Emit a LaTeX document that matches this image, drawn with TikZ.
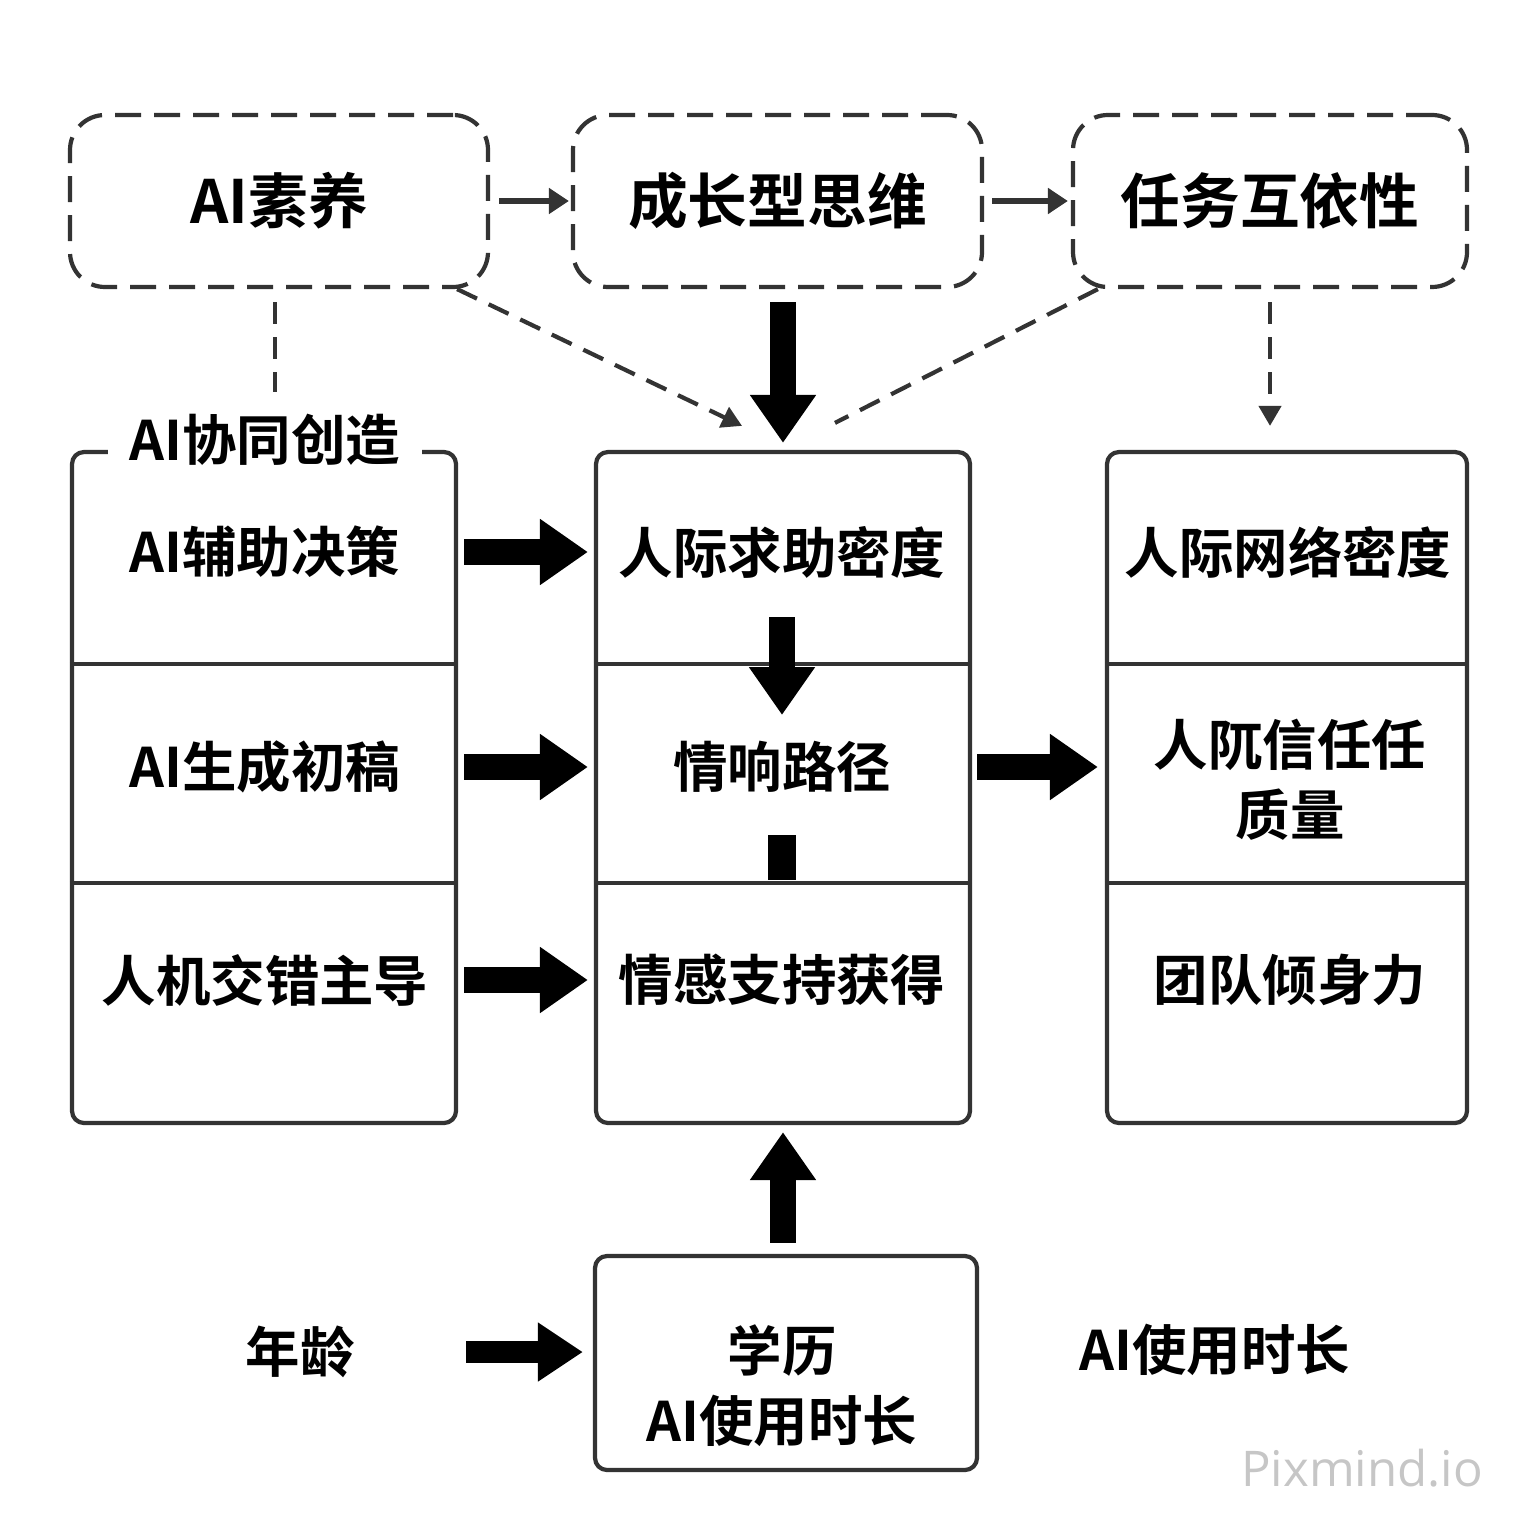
\documentclass[tikz,border=0pt]{standalone}
\usepackage{fontspec}
\setmainfont{Noto Sans CJK SC}[BoldFont={Noto Sans CJK SC Bold}]
\newfontfamily\markfont{Open Sans}
\usetikzlibrary{arrows.meta}
\definecolor{edge}{HTML}{333333}

\begin{document}
\begin{tikzpicture}[line join=round,
		dashbox/.style={draw=edge, line width=1.2pt, dash pattern=on 0.26cm off 0.13cm, rounded corners=0.35cm, minimum height=1.72cm, inner sep=0pt, font=\bfseries\fontsize{17}{20}\selectfont},
		frame/.style={draw=edge, line width=1.2pt, rounded corners=0.12cm, inner sep=0pt},
		cell/.style={align=center, inner sep=2pt, font=\bfseries\fontsize{15.5}{19.9}\selectfont},
		fat/.style={line width=0.26cm, -{Triangle[length=0.48cm, width=0.63cm]}},
		slim/.style={draw=edge, line width=1.5pt, -{Triangle[length=0.2cm, width=0.25cm]}},
		dashline/.style={draw=edge, line width=1.2pt, dash pattern=on 0.22cm off 0.13cm}]
	% Fix page size
	\useasboundingbox (0,0) rectangle (15.36,-15.36);
	
	% Top row: moderators
	\node[dashbox, minimum width=4.18cm] (lit) at (2.79,-2.01) {AI素养};
	\node[dashbox, minimum width=4.09cm] (gm) at (7.775,-2.01) {成长型思维};
	\node[dashbox, minimum width=3.94cm] (tid) at (12.70,-2.01) {任务互依性};
	\draw[slim, shorten <=0.09cm, shorten >=0.02cm] (lit.east) -- (gm.west);
	\draw[slim, shorten <=0.08cm, shorten >=0.03cm] (gm.east) -- (tid.west);
	
	% Three column frames
	\node[frame, minimum width=3.84cm, minimum height=6.71cm] (lframe) at (2.64,-7.875) {};
	\node[frame, minimum width=3.74cm, minimum height=6.71cm] (cframe) at (7.83,-7.875) {};
	\node[frame, minimum width=3.60cm, minimum height=6.71cm] (rframe) at (12.87,-7.875) {};
	\foreach \f in {lframe,cframe,rframe}
	\foreach \y in {-6.64,-8.83}
	\draw[edge, line width=1.2pt] (\f.west |- 0,\y) -- (\f.east |- 0,\y);
	
	% Group title on left frame
	\node[cell, fill=white, inner xsep=0.22cm] (colab) at (2.65,-4.40) {AI协同创造};
	
	% Row labels
	\node[cell] (ad) at (2.65,-5.52) {AI辅助决策};
	\node[cell] (ag) at (2.65,-7.67) {AI生成初稿};
	\node[cell] (hm) at (2.65,-9.80) {人机交错主导};
	\node[cell] (hd) at (7.82,-5.52) {人际求助密度};
	\node[cell] (rp) at (7.82,-7.67) {情响路径};
	\node[cell] (es) at (7.82,-9.80) {情感支持获得};
	\node[cell] (nd) at (12.88,-5.52) {人际网络密度};
	\node[cell] (tq) at (12.90,-7.80) {人阢信任任\\质量};
	\node[cell] (tc) at (12.90,-9.80) {团队倾身力};
	
	% Dashed links from moderators
	\draw[dashline] ([xshift=-0.04cm, yshift=-0.13cm]lit.south) -- ++(0,-0.90);
	\draw[dashline, -{Triangle[length=0.2cm, width=0.22cm]}] ([xshift=-0.33cm]lit.south east) -- ([xshift=-0.41cm, yshift=0.24cm]cframe.north);
	\draw[dashline] ([xshift=0.27cm]tid.south west) -- ([xshift=0.52cm, yshift=0.27cm]cframe.north);
	\draw[dashline, -{Triangle[length=0.2cm, width=0.22cm]}] ([yshift=-0.13cm]tid.south) -- ([yshift=0.24cm]tid.south |- rframe.north);
	\draw[fat, shorten <=0.13cm, shorten >=0.07cm] (cframe.north |- gm.south) -- (cframe.north);
	
	% Block arrows between columns
	\draw[fat, shorten <=0.06cm, shorten >=0.06cm] (ad -| lframe.east) -- (ad -| cframe.west);
	\draw[fat, shorten <=0.06cm, shorten >=0.06cm] (ag -| lframe.east) -- (ag -| cframe.west);
	\draw[fat, shorten <=0.06cm, shorten >=0.06cm] (hm -| lframe.east) -- (hm -| cframe.west);
	\draw[fat, shorten <=0.05cm, shorten >=0.07cm] (rp -| cframe.east) -- (rp -| rframe.west);
	\draw[fat] ([yshift=-0.65cm]hd.center) -- ([yshift=0.52cm]rp.center);
	\draw[line width=0.28cm] ([yshift=-0.68cm]rp.center) -- ([yshift=-1.13cm]rp.center);
	
	% Bottom row: controls
	\node[cell] (age) at (3.00,-13.52) {年龄};
	\node[frame, minimum width=3.82cm, minimum height=2.14cm] (ebox) at (7.86,-13.63) {};
	\node[cell] (edu) at (7.82,-13.86) {学历\\AI使用时长};
	\node[cell] (ut) at (12.15,-13.50) {AI使用时长};
	\draw[fat, line width=0.22cm, -{Triangle[length=0.45cm, width=0.56cm]}, shorten <=1.04cm, shorten >=0.1cm] (age.east) -- (age -| ebox.west);
	\draw[fat, shorten <=0.11cm, shorten >=0.07cm] (cframe.south |- ebox.north) -- (cframe.south);
	
	% Watermark
	\node[text=gray!45, font=\markfont\fontsize{14}{16}\selectfont] (wm) at (13.62,-14.68) {Pixmind.io};
\end{tikzpicture}
\end{document}
